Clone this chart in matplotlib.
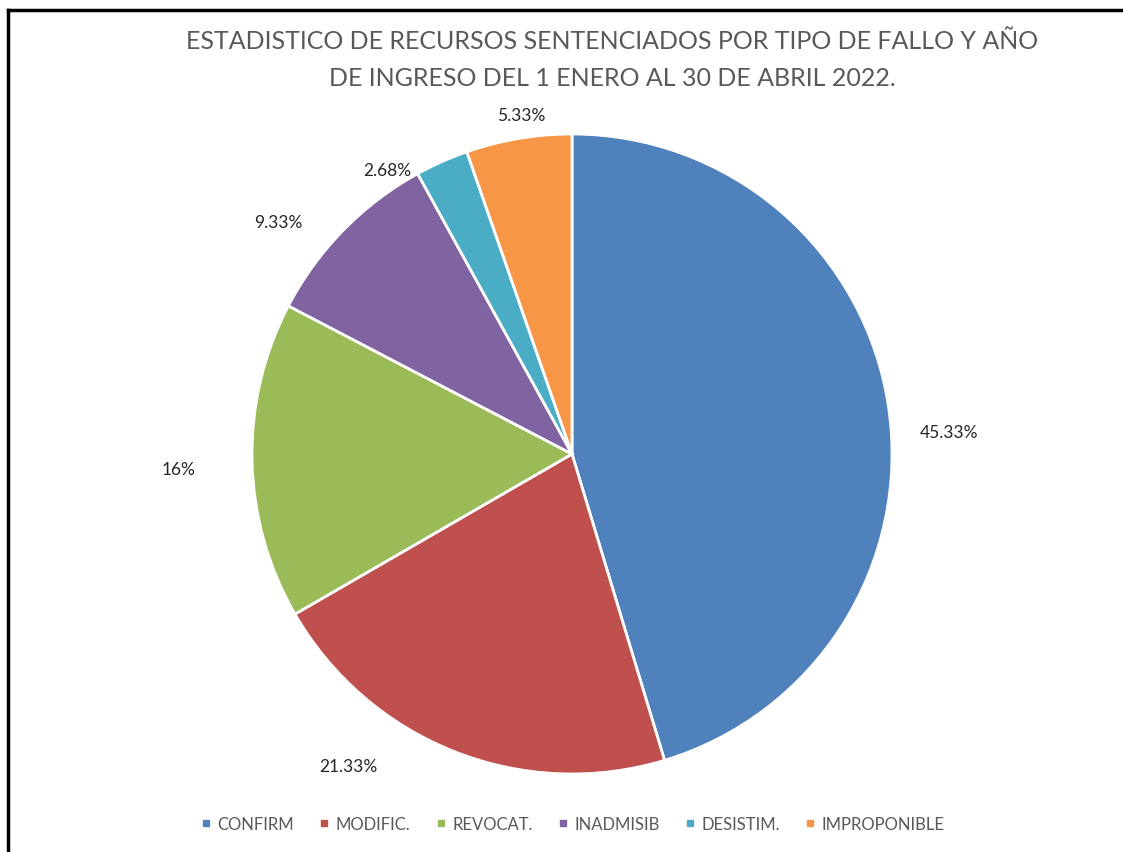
import matplotlib.pyplot as plt
import numpy as np
from matplotlib.lines import Line2D

plt.rcParams['font.family'] = ['Lato', 'DejaVu Sans']

# datos
categorias = ['CONFIRM', 'MODIFIC.', 'REVOCAT.', 'INADMISIB', 'DESISTIM.', 'IMPROPONIBLE']
porcentajes = [45.33, 21.33, 16, 9.33, 2.68, 5.33]
etiquetas = ['45.33%', '21.33%', '16%', '9.33%', '2.68%', '5.33%']
colores = ['#4F81BD', '#C0504D', '#9BBB59', '#8064A2', '#4BACC6', '#F79646']

W, H = 1123, 853
fig = plt.figure(figsize=(W / 100, H / 100), dpi=100)

# eje del pastel (centro ~ (572, 455) px, radio ~320 px)
cx, cy, R = 572, 455, 320
ax = fig.add_axes([(cx - R) / W, 1 - (cy + R) / H, 2 * R / W, 2 * R / H])
wedges, _ = ax.pie(porcentajes, colors=colores, startangle=90, counterclock=False,
                   radius=1.0, wedgeprops=dict(edgecolor='white', linewidth=2))
ax.set_xlim(-1, 1)
ax.set_ylim(-1, 1)
ax.set_aspect('equal')
ax.axis('off')

# etiquetas de datos (ajuste "mejor ajuste" estilo Excel)
label_r = [1.18, 1.20, 1.23, 1.17, 1.06, 1.07]
label_shift = [-5, -14, 1, 6, 9, -1]
for w, txt, r, sh in zip(wedges, etiquetas, label_r, label_shift):
    ang = np.deg2rad((w.theta1 + w.theta2) / 2 + sh)
    ax.text(r * np.cos(ang), r * np.sin(ang), txt, ha='center', va='center',
            fontsize=12.5, color='#262626', clip_on=False)

fig.text(612 / W, 1 - 30 / H, 'ESTADISTICO DE RECURSOS SENTENCIADOS POR TIPO DE FALLO Y AÑO\n'
         'DE INGRESO DEL 1 ENERO AL 30 DE ABRIL 2022.',
         ha='center', va='top', fontsize=18, color='#595959', linespacing=1.75)

handles = [Line2D([], [], marker='s', linestyle='', markersize=5, color=c) for c in colores]
fig.legend(handles, categorias, loc='center', bbox_to_anchor=(572 / W, 1 - 825 / H),
           ncol=6, frameon=False, fontsize=12, handletextpad=0.3, columnspacing=1.4,
           handlelength=0.8, labelcolor='#595959')

# marco
fig.add_artist(Line2D([7.5 / W, 7.5 / W], [0, 1 - 10.5 / H], transform=fig.transFigure,
                      color='black', linewidth=2.5))
fig.add_artist(Line2D([7.5 / W, 1], [1 - 10.5 / H, 1 - 10.5 / H], transform=fig.transFigure,
                      color='black', linewidth=2.5))

fig.savefig('out.png', dpi=100)
